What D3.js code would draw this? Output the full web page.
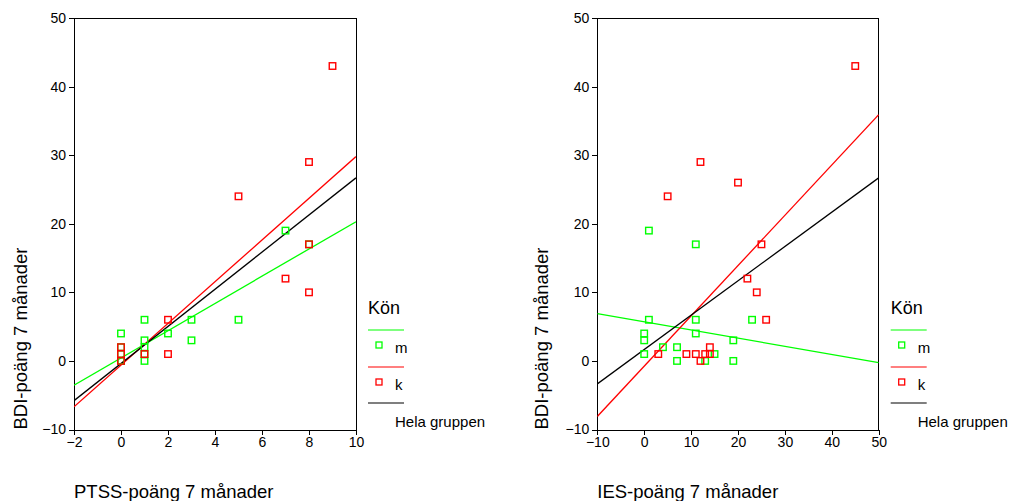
<!DOCTYPE html>
<html>
<head>
<meta charset="utf-8">
<script src="https://cdn.jsdelivr.net/npm/d3@7"></script>
<style>
  body { margin: 0; background: #fff; }
  svg { display: block; font-family: Arial, "Liberation Sans", sans-serif; }
  .axis path, .axis line { stroke: #000; stroke-width: 1; shape-rendering: crispEdges; }
  .axis text { font-size: 14px; fill: #000; }
</style>
</head>
<body>
<svg id="chart" width="1009" height="501"></svg>
<script>
// Colours
const GREEN = '#00ff00';
const RED = '#ff0000';

// Y axis (shared)
const bdiTicks = [-10, 0, 10, 20, 30, 40, 50];

// Left panel: PTSS vs BDI
const ptssTicks = [-2, 0, 2, 4, 6, 8, 10];
const ptssM = [0, 1, 1, 1, 1, 2, 3, 3, 5, 7, 8, 0, 0, 0, 1, 0];
const ptssBdiM = [4, 6, 3, 2, 0, 4, 6, 3, 6, 19, 17, 2, 0, 1, 1, 0];
const ptssK = [9, 8, 5, 8, 7, 8, 2, 2, 1, 0, 0, 0];
const ptssBdiK = [43, 29, 24, 17, 12, 10, 6, 1, 1, 2, 1, 0];
const ptssFitM = [-3.55, 20.3];   // BDI at x = -2 and x = 10
const ptssFitK = [-6.7, 29.8];
const ptssFitAll = [-5.8, 26.7];

// Right panel: IES vs BDI
const iesTicks = [-10, 0, 10, 20, 30, 40, 50];
const iesM = [0, 0, 0, 1, 4, 7, 7, 11, 11, 11, 13, 15, 19, 19, 23, 1];
const iesBdiM = [4, 3, 1, 6, 2, 2, 0, 17, 6, 4, 0, 1, 3, 0, 6, 19];
const iesK = [3, 9, 11, 12, 13, 14, 14, 22, 24, 26, 25, 45, 12, 5, 20];
const iesBdiK = [1, 1, 1, 0, 1, 2, 1, 12, 10, 6, 17, 43, 29, 24, 26];
const iesFitM = [6.9, -0.25];     // BDI at x = -10 and x = 50
const iesFitK = [-8.1, 35.9];
const iesFitAll = [-3.35, 26.7];

const legendTitle = 'Kön';
const legendLabels = ['m', 'k', 'Hela gruppen'];

const svg = d3.select('#chart');

function drawPanel(cfg) {
  const top = 18, bottom = 429.5;
  const g = svg.append('g').attr('transform', `translate(${cfg.left},0)`);

  const x = d3.scaleLinear().domain(d3.extent(cfg.xTicks)).range([0, cfg.width]);
  const y = d3.scaleLinear().domain(d3.extent(bdiTicks)).range([bottom, top]);

  // frame (top and right)
  g.append('path')
    .attr('d', `M0,${top}H${cfg.width}V${bottom}`)
    .attr('fill', 'none').attr('stroke', '#000').attr('stroke-width', 1)
    .attr('shape-rendering', 'crispEdges');

  g.append('g').attr('class', 'axis')
    .call(d3.axisLeft(y).tickValues(bdiTicks).tickSize(5).tickPadding(3).tickSizeOuter(0));

  g.append('g').attr('class', 'axis')
    .attr('transform', `translate(0,${bottom})`)
    .call(d3.axisBottom(x).tickValues(cfg.xTicks).tickSize(5).tickPadding(3).tickSizeOuter(0));

  // clip for fit lines
  const clipId = 'clip-' + cfg.id;
  g.append('clipPath').attr('id', clipId)
    .append('rect').attr('x', 0).attr('y', top).attr('width', cfg.width).attr('height', bottom - top);

  const xs = d3.extent(cfg.xTicks);
  const fits = [
    { v: cfg.fitM, c: GREEN },
    { v: cfg.fitK, c: RED },
    { v: cfg.fitAll, c: '#000' }
  ];
  const line = d3.line().x(d => x(d[0])).y(d => y(d[1]));
  g.append('g').attr('clip-path', `url(#${clipId})`)
    .selectAll('path').data(fits).enter().append('path')
    .attr('d', d => line([[xs[0], d.v[0]], [xs[1], d.v[1]]]))
    .attr('fill', 'none')
    .attr('stroke', d => d.c)
    .attr('stroke-width', 1.3);

  // markers
  const s = 6.5;
  const drawPts = (xv, yv, color) => {
    g.append('g').selectAll('rect').data(xv.map((d, i) => [d, yv[i]])).enter().append('rect')
      .attr('x', d => x(d[0]) - s / 2)
      .attr('y', d => y(d[1]) - s / 2)
      .attr('width', s).attr('height', s)
      .attr('fill', 'none')
      .attr('stroke', color)
      .attr('stroke-width', 1.4);
  };
  drawPts(cfg.xm, cfg.ym, GREEN);
  drawPts(cfg.xk, cfg.yk, RED);

  // axis titles
  g.append('text')
    .attr('transform', `translate(${-cfg.yLabelOff},${bottom}) rotate(-90)`)
    .attr('font-size', '18.5px')
    .text('BDI-poäng 7 månader');

  g.append('text')
    .attr('x', 0).attr('y', 498)
    .attr('font-size', '18.5px')
    .text(cfg.xTitle);

  // legend
  const lg = g.append('g').attr('transform', `translate(${cfg.width + 12},0)`);
  lg.append('text').attr('x', 0).attr('y', 314).attr('font-size', '18px').text(legendTitle);
  const rows = [
    { c: GREEN, ly: 330, my: 345, ty: 352.5, marker: true },
    { c: RED, ly: 367, my: 382, ty: 390, marker: true },
    { c: '#000', ly: 403, my: 0, ty: 426.5, marker: false }
  ];
  rows.forEach((r, i) => {
    lg.append('line')
      .attr('x1', 0).attr('x2', 36).attr('y1', r.ly).attr('y2', r.ly)
      .attr('stroke', r.c).attr('stroke-width', 1.2);
    if (r.marker) {
      lg.append('rect')
        .attr('x', 11 - 3).attr('y', r.my - 3).attr('width', 6).attr('height', 6)
        .attr('fill', 'none').attr('stroke', r.c).attr('stroke-width', 1.3);
    }
    lg.append('text').attr('x', 27).attr('y', r.ty).attr('font-size', '15px').text(legendLabels[i]);
  });
}

drawPanel({
  id: 'ptss', left: 74, width: 282, xTicks: ptssTicks, xTitle: 'PTSS-poäng 7 månader',
  xm: ptssM, ym: ptssBdiM, xk: ptssK, yk: ptssBdiK,
  fitM: ptssFitM, fitK: ptssFitK, fitAll: ptssFitAll, yLabelOff: 47
});

drawPanel({
  id: 'ies', left: 597.3, width: 281.4, xTicks: iesTicks, xTitle: 'IES-poäng 7 månader',
  xm: iesM, ym: iesBdiM, xk: iesK, yk: iesBdiK,
  fitM: iesFitM, fitK: iesFitK, fitAll: iesFitAll, yLabelOff: 49.3
});
</script>
</body>
</html>
